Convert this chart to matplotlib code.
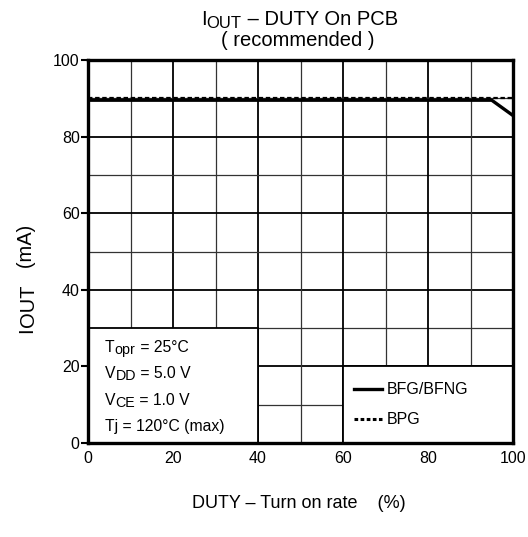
import matplotlib.pyplot as plt
from matplotlib.patches import Rectangle
from matplotlib.lines import Line2D

plt.rcParams['font.family'] = ['Liberation Sans', 'DejaVu Sans']

# data
duty_bfg = [0, 95, 100]
iout_bfg = [89.5, 89.5, 85.5]
duty_bpg = [0, 100]
iout_bpg = [90, 90]

x_ticks = [0, 20, 40, 60, 80, 100]
y_ticks = [0, 20, 40, 60, 80, 100]
# (text, subscript?) pieces
cond_lines = [[("T", 0), ("opr", 1), (" = 25°C", 0)],
              [("V", 0), ("DD", 1), (" = 5.0 V", 0)],
              [("V", 0), ("CE", 1), (" = 1.0 V", 0)],
              [("Tj = 120°C (max)", 0)]]
series_names = ["BFG/BFNG", "BPG"]

W, H = 528, 537


def px(x, y):
    return x / W, 1 - y / H


def chain(fig, x, y, parts, size, sub_size, drop, vertical=False):
    # text pieces placed one after another; subscripts lowered
    s0, prev_sub = parts[0]
    if vertical:
        t = fig.text(*px(x, y), s0, rotation=90, ha='right', va='bottom', fontsize=size)
    else:
        t = fig.text(*px(x, y), s0, ha='left', va='baseline', fontsize=size)
    for s, is_sub in parts[1:]:
        d = (drop if is_sub else 0) - (drop if prev_sub else 0)
        fs = sub_size if is_sub else size
        if vertical:
            t = fig.axes[0].annotate(s, xy=(1, 1), xycoords=t, xytext=(d, 0),
                                     textcoords='offset points', rotation=90, ha='right',
                                     va='bottom', fontsize=fs, annotation_clip=False)
        else:
            t = fig.axes[0].annotate(s, xy=(1, 0), xycoords=t, xytext=(0, -d),
                                     textcoords='offset points', ha='left', va='bottom',
                                     fontsize=fs, annotation_clip=False, zorder=5)
        prev_sub = is_sub
    return t


fig = plt.figure(figsize=(W / 100, H / 100), dpi=100)
ax = fig.add_axes([88/W, 1 - 443/H, 425/W, 383/H])

ax.set_xlim(0, 100)
ax.set_ylim(0, 100)

# grid: thin every 10, heavier every 20
for v in range(10, 100, 10):
    lw = 1.3 if v % 20 == 0 else 0.9
    col = 'black' if v % 20 == 0 else '#333333'
    ax.axvline(v, color=col, lw=lw, zorder=1)
    ax.axhline(v, color=col, lw=lw, zorder=1)

# boxes covering the grid
ax.add_patch(Rectangle((0, 0), 40, 30, facecolor='white', edgecolor='black', lw=1.3, zorder=2))
ax.add_patch(Rectangle((60, 0), 40, 20, facecolor='white', edgecolor='black', lw=1.3, zorder=2))

ax.plot(duty_bpg, iout_bpg, color='black', lw=1.6, ls=(0, (2, 1.2)), zorder=3)
ax.plot(duty_bfg, iout_bfg, color='black', lw=2.4, zorder=4)

handles = [Line2D([], [], color='black', lw=2.4),
           Line2D([], [], color='black', lw=2.2, ls=(0, (1.2, 0.8)))]
ax.legend(handles, series_names, loc='center left', bbox_to_anchor=(0.625, 0.1),
          frameon=False, fontsize=11.5, handlelength=1.8, handletextpad=0.3,
          labelspacing=0.95, borderpad=0, borderaxespad=0)

ax.set_xticks(x_ticks)
ax.set_yticks(y_ticks)
ax.tick_params(axis='y', direction='out', length=5, width=1.5, labelsize=11.5, pad=1)
ax.tick_params(axis='x', direction='out', length=0, labelsize=11.5, pad=6)
for sp in ax.spines.values():
    sp.set_linewidth(2.4)
    sp.set_zorder(6)

# condition box text
for i, parts in enumerate(cond_lines):
    chain(fig, 105, 352 + i * 26.3, parts, 11.3, 10.3, 1.5)

# title
chain(fig, 201, 25, [("I", 0), ("OUT", 1), (" – DUTY On PCB", 0)], 14.5, 12, 1.2)
fig.text(*px(298, 46), "( recommended )", ha='center', va='baseline', fontsize=14.5)

# y label, rotated
chain(fig, 36, 333, [("I", 0), ("OUT", 1), ("   (mA)", 0)], 14.5, 14.5, 1.5, vertical=True)

fig.text(*px(192, 508), "DUTY – Turn on rate    (%)", ha='left', va='baseline', fontsize=13)

fig.savefig('out.png', dpi=100)
